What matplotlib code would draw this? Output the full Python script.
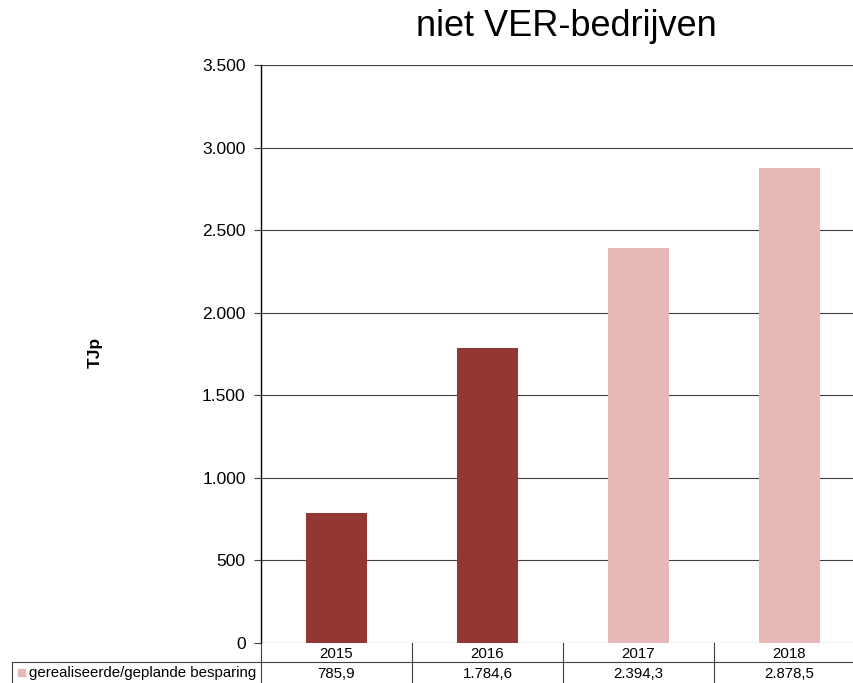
import matplotlib.pyplot as plt
from matplotlib.patches import Rectangle
from matplotlib.lines import Line2D

plt.rcParams['font.family'] = ['Liberation Sans', 'DejaVu Sans']

years = ["2015", "2016", "2017", "2018"]
savings = [785.9, 1784.6, 2394.3, 2878.5]
value_labels = ["785,9", "1.784,6", "2.394,3", "2.878,5"]
bar_colors = ["#943634", "#943634", "#E6B9B8", "#E6B9B8"]
series_name = "gerealiseerde/geplande besparing"
yticks = [0, 500, 1000, 1500, 2000, 2500, 3000, 3500]
ytick_labels = ["0", "500", "1.000", "1.500", "2.000", "2.500", "3.000", "3.500"]

W, H = 854, 683
fig = plt.figure(figsize=(W / 100, H / 100), dpi=100)

# axes geometry in pixels
x0, x1 = 261, 865
y0, y1 = 643, 65
ax = fig.add_axes([x0 / W, (H - y0) / H, (x1 - x0) / W, (y0 - y1) / H])

xs = range(len(years))
ax.bar(xs, savings, width=0.4, color=bar_colors, zorder=3)
ax.set_xlim(-0.5, len(years) - 0.5)
ax.set_ylim(0, 3500)
ax.set_yticks(yticks)
ax.set_yticklabels(ytick_labels, fontsize=12.5)
ax.set_xticks([])
ax.yaxis.grid(True, color="#404040", linewidth=0.8, zorder=0)
ax.tick_params(axis="y", length=5, width=0.8, color="#404040", pad=6)
for s in ["top", "right", "bottom"]:
    ax.spines[s].set_visible(False)
ax.spines["left"].set_linewidth(1.0)


def fx(px):
    return px / W


def fy(py):
    return 1 - py / H


fig.text(fx(95), fy(352), "TJp", fontsize=12.5, fontweight="bold",
         rotation=90, ha="center", va="center")
fig.text(fx(566), fy(26), "niet VER-bedrijven", fontsize=26,
         ha="center", va="center")

# data table below the axes
lc = "#404040"
row_top, row_mid, row_bot = 643, 662, 683
cell_w = (x1 - x0) / len(years)
fig.add_artist(Line2D([fx(12), fx(x1)], [fy(row_mid), fy(row_mid)], color=lc, lw=0.8))
fig.add_artist(Line2D([fx(12), fx(12)], [fy(row_mid), fy(row_bot)], color=lc, lw=0.8))
for i in range(len(years) + 1):
    xp = x0 + i * cell_w
    fig.add_artist(Line2D([fx(xp), fx(xp)], [fy(row_top), fy(row_bot)], color=lc, lw=0.8))
for i, (yr, lab) in enumerate(zip(years, value_labels)):
    xc = x0 + (i + 0.5) * cell_w
    fig.text(fx(xc), fy((row_top + row_mid) / 2 + 1), yr, fontsize=10.8,
             ha="center", va="center")
    fig.text(fx(xc), fy((row_mid + row_bot) / 2 + 1), lab, fontsize=10.8,
             ha="center", va="center")

fig.add_artist(Rectangle((fx(18), fy(676)), 7 / W, 7 / H, color="#E6B9B8"))
fig.text(fx(29), fy((row_mid + row_bot) / 2 + 1), series_name, fontsize=10.8,
         ha="left", va="center")

fig.savefig("out.png", dpi=100)
